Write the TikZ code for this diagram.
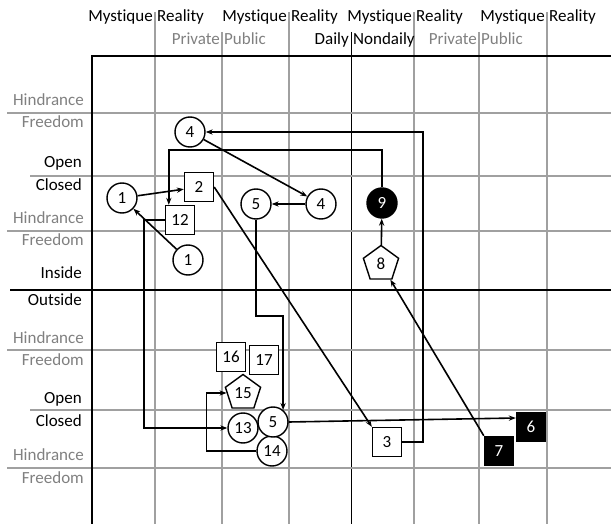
\documentclass[tikz,border=0pt]{standalone}
\usepackage{fontspec}
\setmainfont{Carlito}[Ligatures=NoCommon]
\definecolor{gridgray}{RGB}{160, 160, 160}
\definecolor{textgray}{RGB}{128, 128, 128}
\usepackage{tikz}
\usetikzlibrary{shapes.geometric, arrows.meta, calc}

\begin{document}
\begin{tikzpicture}[x=1pt, y=-1pt,
  txt/.style={font=\fontsize{17}{20}\selectfont, inner sep=0pt},
  dim/.style={txt, text=textgray},
  gridline/.style={draw=gridgray, line width=1.2pt},
  circ/.style={draw, circle, fill=white, line width=1.4pt, minimum size=30pt, inner sep=0pt, font=\fontsize{17}{18}\selectfont},
  sq/.style={draw, rectangle, fill=white, line width=1.4pt, minimum size=29pt, inner sep=0pt, font=\fontsize{17}{18}\selectfont},
  pent/.style={draw, regular polygon, regular polygon sides=5, fill=white, line width=1.4pt, minimum size=37pt, inner sep=0pt, font=\fontsize{17}{18}\selectfont},
  blk/.style={fill=black, text=white},
  arr/.style={-{Stealth[length=7pt]}, line width=1.6pt},
]
  \useasboundingbox (0,0) rectangle (611,524);

  % Grid
  \draw[gridline] (155,12) -- (155,524);
  \draw[gridline] (222,32) -- (222,524);
  \draw[gridline] (289,12) -- (289,524);
  \draw[line width=1pt] (351,32) -- (351,524);
  \draw[gridline] (414,12) -- (414,524);
  \draw[gridline] (479,32) -- (479,524);
  \draw[gridline] (547,12) -- (547,524);
  \draw[gridline] (7,113) -- (611,113);
  \draw[gridline] (30,176) -- (611,176);
  \draw[gridline] (7,231) -- (611,231);
  \draw[line width=1.2pt] (10,290) -- (611,290);
  \draw[gridline] (7,350) -- (611,350);
  \draw[gridline] (30,410) -- (611,410);
  \draw[gridline] (7,468) -- (611,468);
  \draw[line width=2.4pt] (92,524) -- (92,56) -- (611,56);

  % Header
  \node[txt, anchor=base east] (mys1) at (153,22) {Mystique};
  \node[txt, anchor=base west] (rea1) at (157,22) {Reality};
  \node[txt, anchor=base east] (mys2) at (287,22) {Mystique};
  \node[txt, anchor=base west] (rea2) at (291,22) {Reality};
  \node[txt, anchor=base east] (mys3) at (412,22) {Mystique};
  \node[txt, anchor=base west] (rea3) at (416,22) {Reality};
  \node[txt, anchor=base east] (mys4) at (545,22) {Mystique};
  \node[txt, anchor=base west] (rea4) at (549,22) {Reality};
  \node[dim, anchor=base east] (priv1) at (220,45) {Private};
  \node[dim, anchor=base west] (publ1) at (224,45) {Public};
  \node[txt, anchor=base east] (daily) at (349,45) {Daily};
  \node[txt, anchor=base west] (nondaily) at (353,45) {Nondaily};
  \node[dim, anchor=base east] (priv2) at (477,45) {Private};
  \node[dim, anchor=base west] (publ2) at (481,45) {Public};

  % Row labels
  \node[dim, anchor=base east] (hin1) at (84,106) {Hindrance};
  \node[dim, anchor=base east] (fre1) at (84,128) {Freedom};
  \node[txt, anchor=base east] (open1) at (82,168) {Open};
  \node[txt, anchor=base east] (clo1) at (82,191) {Closed};
  \node[dim, anchor=base east] (hin2) at (84,224) {Hindrance};
  \node[dim, anchor=base east] (fre2) at (84,246) {Freedom};
  \node[txt, anchor=base east] (inside) at (82,278) {Inside};
  \node[txt, anchor=base east] (outside) at (82,305) {Outside};
  \node[dim, anchor=base east] (hin3) at (84,343) {Hindrance};
  \node[dim, anchor=base east] (fre3) at (84,365) {Freedom};
  \node[txt, anchor=base east] (open2) at (82,403) {Open};
  \node[txt, anchor=base east] (clo2) at (82,426) {Closed};
  \node[dim, anchor=base east] (hin4) at (84,460) {Hindrance};
  \node[dim, anchor=base east] (fre4) at (84,483) {Freedom};

  % Upper half
  \node[circ] (c4a) at (190,132) {4};
  \node[sq] (s2) at (199,187) {2};
  \node[circ] (c1a) at (122,198) {1};
  \node[sq] (s12) at (180,220) {12};
  \node[circ] (c1b) at (188,260) {1};
  \node[circ] (c5a) at (256,204) {5};
  \node[circ] (c4b) at (321,204) {4};
  \node[circ, blk] (c9) at (382,203) {9};
  \node[pent] (p8) at (381,264) {8};

  % Lower half
  \node[sq] (s16) at (231,357) {16};
  \node[sq] (s17) at (264,360) {17};
  \node[pent] (p15) at (243,393) {15};
  \node[circ] (c14) at (272,451) {14};
  \node[circ] (c13) at (243,428) {13};
  \node[circ] (c5b) at (273,422) {5};
  \node[sq] (s3) at (387,442) {3};
  \node[sq, blk] (s6) at (531,427) {6};
  \node[sq, blk] (s7) at (499,451) {7};

  % Arrows
  \draw[arr] (c1a) -- (s2);
  \draw[arr] (c1b) -- (c1a);
  \draw[arr] (c4a) -- (c4b);
  \draw[arr] (c4b) -- (c5a);
  \draw[arr] (s2.east) -- (s3.north west);
  \draw[arr] (s3.east) -- ++(21,0) |- (c4a);
  \draw[arr] (c9.north) -- ++(0,-37) -| ([xshift=4pt]s12.north west);
  \draw[arr] (s12.west) -- ++(-21,0) |- (c13);
  \draw[arr] (c5a.south) -- ++(0,96) -| (c5b.50);
  \draw[arr] (c5b.east) -- ([yshift=9pt]s6.west);
  \draw[arr] (s7.north west) -- (p8);
  \draw[arr] (p8) -- (c9);
  \draw[arr] (c14.west) -- ++(-50,0) |- (p15);
\end{tikzpicture}
\end{document}
